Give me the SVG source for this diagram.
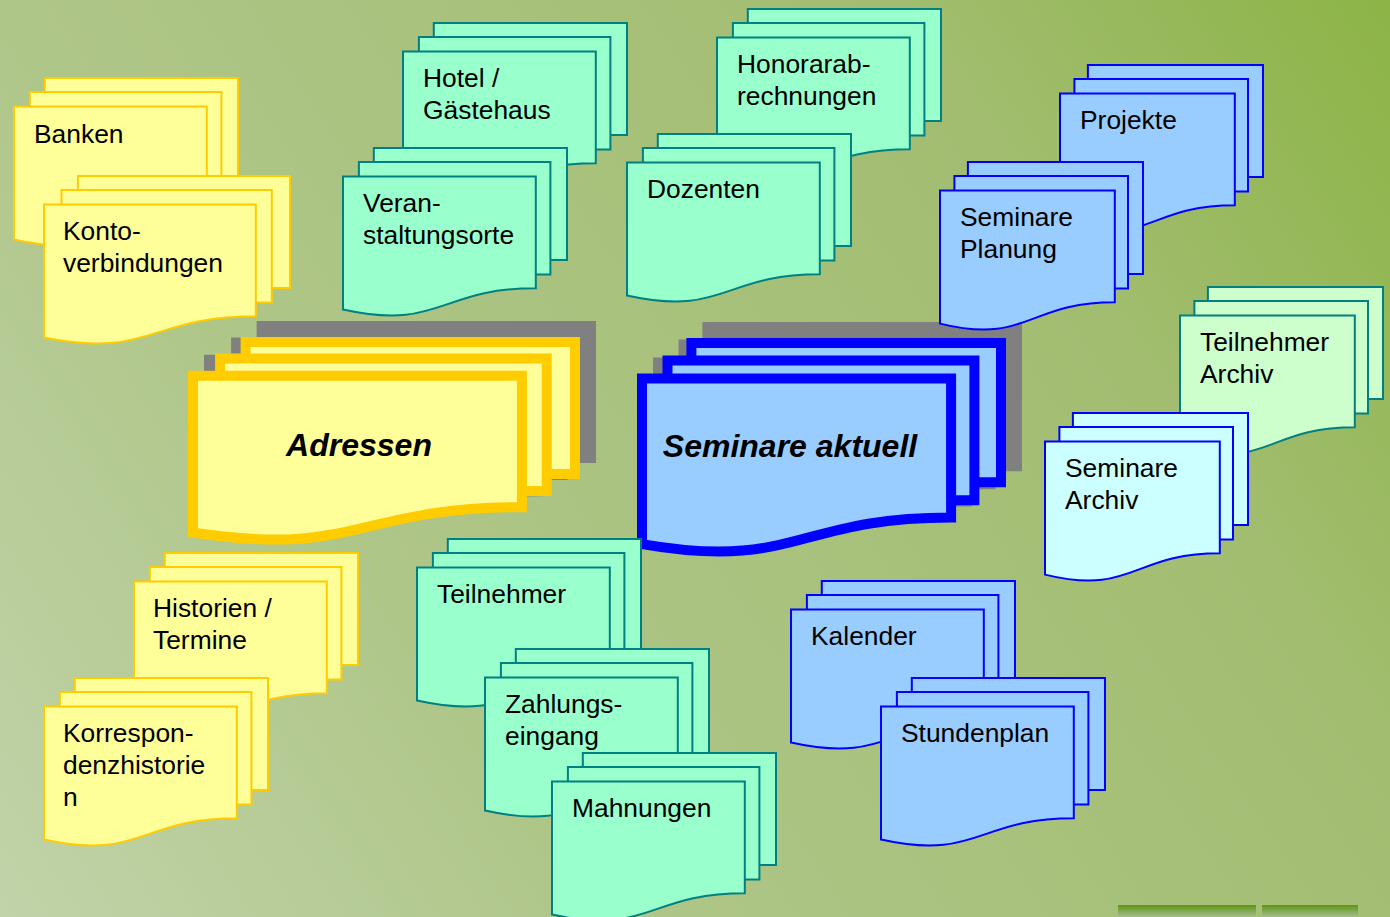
<svg xmlns="http://www.w3.org/2000/svg" xmlns:xlink="http://www.w3.org/1999/xlink" width="1390" height="917" viewBox="0 0 1390 917">
<style>
.y{fill:#FFFF99;stroke:#FFCC00;stroke-width:2}
.g{fill:#99FFCC;stroke:#008080;stroke-width:2}
.b{fill:#99CCFF;stroke:#0000FF;stroke-width:2}
.ga{fill:#CCFFCC;stroke:#008080;stroke-width:2}
.ba{fill:#CCFFFF;stroke:#0000FF;stroke-width:2}
.shadow{fill:#808080;stroke:#808080;stroke-width:10}
.by{fill:#FFFF99;stroke:#FFCC00;stroke-width:10}
.bb{fill:#99CCFF;stroke:#0000FF;stroke-width:10}
.t{font-family:"Liberation Sans",Arial,sans-serif;font-size:26.4px;fill:#000}
.bt{font-family:"Liberation Sans",Arial,sans-serif;font-size:32px;font-weight:bold;font-style:italic;fill:#000;text-anchor:middle}
</style>
<defs>
<linearGradient id="bg" gradientUnits="userSpaceOnUse" x1="0" y1="917" x2="1390" y2="0">
<stop offset="0" stop-color="#C1D3A9"/>
<stop offset="0.3" stop-color="#AFC689"/>
<stop offset="0.75" stop-color="#A2BD70"/>
<stop offset="1" stop-color="#8CB446"/>
</linearGradient>
<linearGradient id="bar" x1="0" y1="0" x2="0" y2="1">
<stop offset="0" stop-color="#5A9614"/>
<stop offset="1" stop-color="#A9BE8E"/>
</linearGradient>
<g id="A">
<path d="M30.8,0H224V111.9H30.8Z"/>
<path d="M15.9,14.1H207.4V126.4H15.9Z"/>
<path d="M0,28.6H192.8V140.2C96.4,140.2 96.4,183.1 0,161.6Z"/>
</g>
<g id="K">
<path d="M33.9,0H246V111.9H33.9Z"/>
<path d="M17.5,14.1H227.8V126.4H17.5Z"/>
<path d="M0,28.6H211.8V140.2C105.9,140.2 105.9,183.1 0,161.6Z"/>
</g>
<g id="B">
<path d="M27.9,0H203V111.9H27.9Z"/>
<path d="M14.4,14.1H188V126.4H14.4Z"/>
<path d="M0,28.6H174.8V140.2C87.4,140.2 87.4,183.1 0,161.6Z"/>
</g>
<g id="adr">
<path d="M245.6,342H575V473.9H245.6Z"/>
<path d="M220.1,358.6H546.7V491H220.1Z"/>
<path d="M193,375.7H521.9V507.2C357.4,507.2 357.4,557.8 193,532.5Z"/>
</g>
<g id="sem">
<path d="M691.4,343H1001V482.3H691.4Z"/>
<path d="M667.5,360.6H974.4V500.3H667.5Z"/>
<path d="M642,378.6H951.1V517.4C796.5,517.4 796.5,570.8 642,544.1Z"/>
</g>
</defs>
<rect x="0" y="0" width="1390" height="917" fill="url(#bg)"/>
<rect x="1118" y="905" width="138" height="12" fill="url(#bar)"/>
<rect x="1262" y="905" width="96" height="12" fill="url(#bar)"/>
<g id="connectors"/>
<g id="adressen">
<use xlink:href="#adr" transform="translate(16,-16)" class="shadow"/>
<use xlink:href="#adr" class="by"/>
<text class="bt" x="359" y="456">Adressen</text>
</g>
<g id="seminare-aktuell">
<use xlink:href="#sem" transform="translate(16,-16)" class="shadow"/>
<use xlink:href="#sem" class="bb"/>
<text class="bt" x="790" y="457">Seminare aktuell</text>
</g>
<g id="banken"><use xlink:href="#A" x="14" y="78" class="y"/><text class="t" x="34" y="143">Banken</text></g>
<g id="konto"><use xlink:href="#K" x="44" y="176" class="y"/><text class="t" x="63" y="240">Konto-</text><text class="t" x="63" y="272">verbindungen</text></g>
<g id="hotel"><use xlink:href="#A" x="403" y="23" class="g"/><text class="t" x="423" y="87">Hotel /</text><text class="t" x="423" y="119">Gästehaus</text></g>
<g id="veranstaltungsorte"><use xlink:href="#A" x="343" y="148" class="g"/><text class="t" x="363" y="212">Veran-</text><text class="t" x="363" y="244">staltungsorte</text></g>
<g id="honorar"><use xlink:href="#A" x="717" y="9" class="g"/><text class="t" x="737" y="73">Honorarab-</text><text class="t" x="737" y="105">rechnungen</text></g>
<g id="dozenten"><use xlink:href="#A" x="627" y="134" class="g"/><text class="t" x="647" y="198">Dozenten</text></g>
<g id="projekte"><use xlink:href="#B" x="1060" y="65" class="b"/><text class="t" x="1080" y="129">Projekte</text></g>
<g id="seminare-planung"><use xlink:href="#B" x="940" y="162" class="b"/><text class="t" x="960" y="226">Seminare</text><text class="t" x="960" y="258">Planung</text></g>
<g id="teilnehmer-archiv"><use xlink:href="#B" x="1180" y="287" class="ga"/><text class="t" x="1200" y="351">Teilnehmer</text><text class="t" x="1200" y="383">Archiv</text></g>
<g id="seminare-archiv"><use xlink:href="#B" x="1045" y="413" class="ba"/><text class="t" x="1065" y="477">Seminare</text><text class="t" x="1065" y="509">Archiv</text></g>
<g id="historien"><use xlink:href="#A" x="134" y="553" class="y"/><text class="t" x="153" y="617">Historien /</text><text class="t" x="153" y="649">Termine</text></g>
<g id="korrespondenz"><use xlink:href="#A" x="44" y="678" class="y"/><text class="t" x="63" y="742">Korrespon-</text><text class="t" x="63" y="774">denzhistorie</text><text class="t" x="63" y="806">n</text></g>
<g id="teilnehmer"><use xlink:href="#A" x="417" y="539" class="g"/><text class="t" x="437" y="603">Teilnehmer</text></g>
<g id="zahlungseingang"><use xlink:href="#A" x="485" y="649" class="g"/><text class="t" x="505" y="713">Zahlungs-</text><text class="t" x="505" y="745">eingang</text></g>
<g id="mahnungen"><use xlink:href="#A" x="552" y="753" class="g"/><text class="t" x="572" y="817">Mahnungen</text></g>
<g id="kalender"><use xlink:href="#A" x="791" y="581" class="b"/><text class="t" x="811" y="645">Kalender</text></g>
<g id="stundenplan"><use xlink:href="#A" x="881" y="678" class="b"/><text class="t" x="901" y="742">Stundenplan</text></g>
</svg>
